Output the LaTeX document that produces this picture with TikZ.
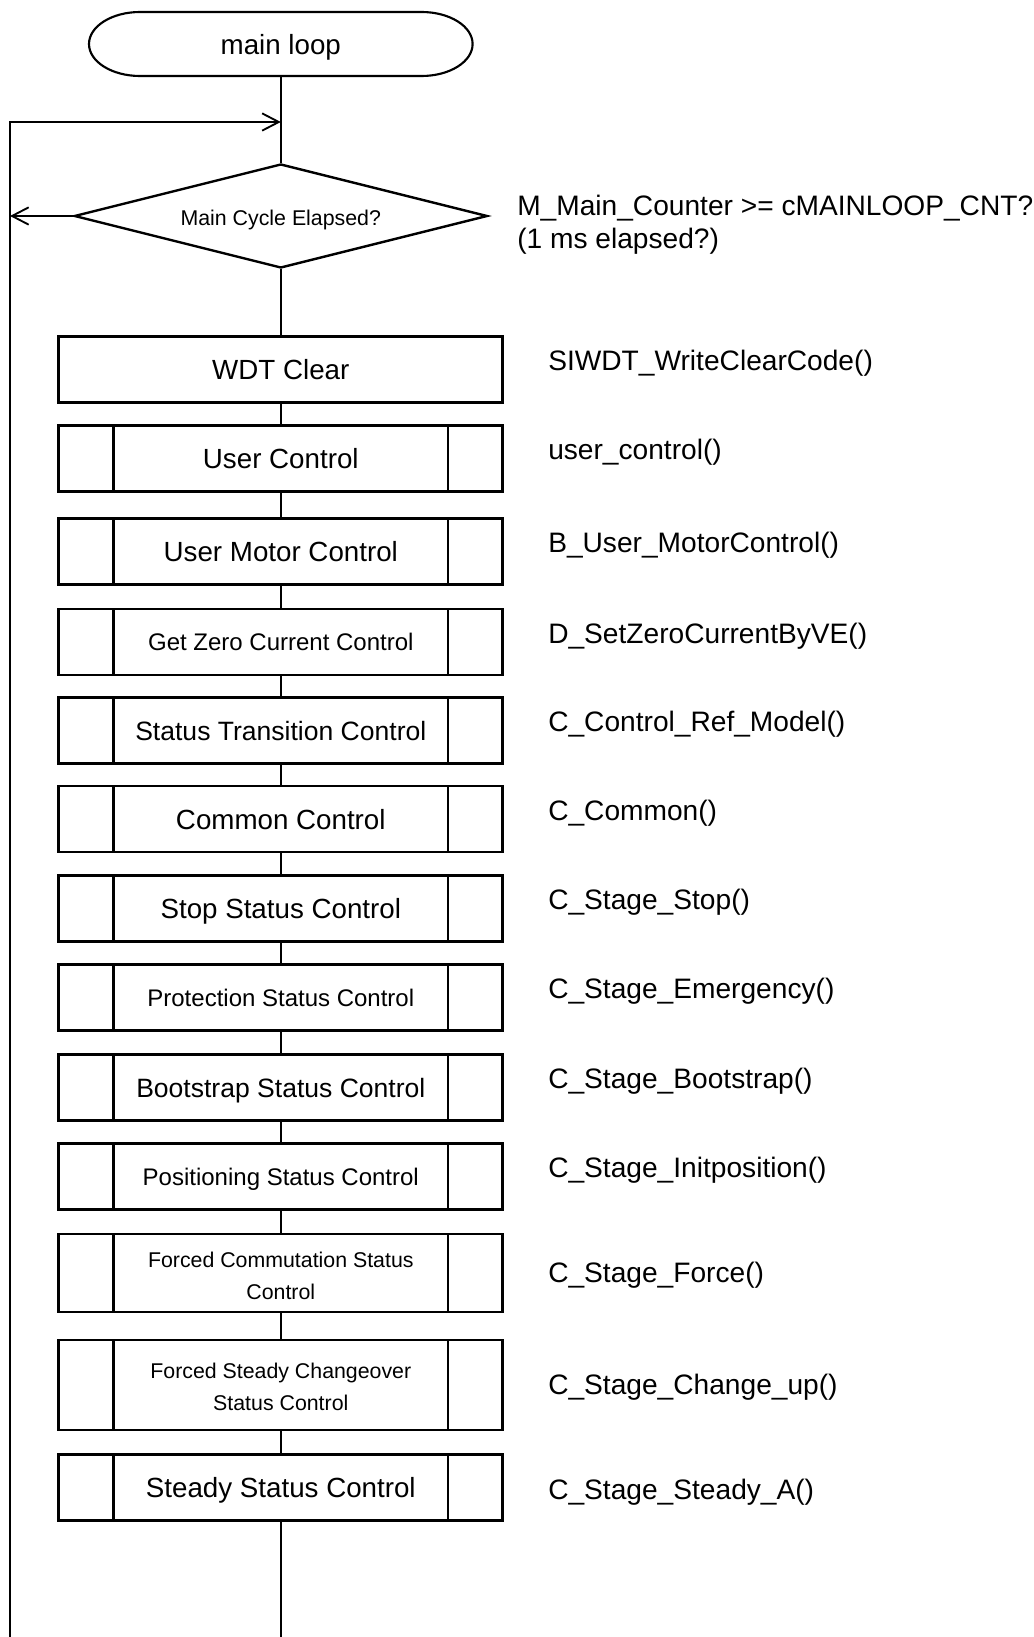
\documentclass[tikz,border=0pt]{standalone}
\usepackage{fontspec}
\setmainfont{Liberation Sans}
\usetikzlibrary{arrows.meta,shapes.geometric}
\newcommand{\lowtxt}[2]{\raisebox{-#1}[\height][\depth]{#2}}
\begin{document}
\begin{tikzpicture}[x=0.75pt,y=-0.75pt,
  conn/.style={line width=1.4pt},
  arr/.style={conn,-{Straight Barb[length=12.5pt,width=13pt,line width=1.4pt]}},
  boxst/.style={draw,line width=2pt,minimum width=333pt,minimum height=49.5pt,inner sep=0pt,align=center,text depth=0pt,font=\fontsize{20.8}{24}\selectfont},
  small/.style={font=\fontsize{16}{23.5}\selectfont},
  medium/.style={font=\fontsize{18}{22}\selectfont},
  narrow/.style={font=\fontsize{19.9}{24}\selectfont},
  subr/.style={boxst,path picture={
      \draw[line width=1.8pt] ([xshift=41pt]path picture bounding box.north west) -- ([xshift=41pt]path picture bounding box.south west);
      \draw[line width=1.8pt] ([xshift=-41pt]path picture bounding box.north east) -- ([xshift=-41pt]path picture bounding box.south east);}},
  lab/.style={anchor=west,inner sep=0pt,align=left,font=\fontsize{21.1}{24.5}\selectfont}
]
\useasboundingbox (0,0) rectangle (1034,1637);

% terminal
\node[minimum width=286.5pt,minimum height=48pt,inner sep=0pt,font=\fontsize{20.8}{24}\selectfont] (start) at (280.8,44) {\lowtxt{2.25pt}{main loop}};
\draw[line width=1.6pt] (140,12) -- (421.6,12) arc[start angle=90,end angle=-90,x radius=38.25pt,y radius=24pt]
   -- (140,76) arc[start angle=270,end angle=90,x radius=38.25pt,y radius=24pt] -- cycle;

% decision
\node[diamond,draw,line width=1.8pt,minimum width=309.75pt,minimum height=78pt,aspect=3.97,inner sep=0pt,small] (dec) at (280.8,216) {\lowtxt{3pt}{Main Cycle Elapsed?}};
\node[lab] (declab) at (517,225) {M\_Main\_Counter >= cMAINLOOP\_CNT?\\(1 ms elapsed?)};

% boxes
\node[boxst] (b1) at (280.8,369.5) {WDT Clear};
\node[subr] (b2) at (280.8,458.5) {User Control};
\node[subr] (b3) at (280.8,551.5) {User Motor Control};
\node[subr,medium] (b4) at (280.8,642) {Get Zero Current Control};
\node[subr,narrow] (b5) at (280.8,730.5) {Status Transition Control};
\node[subr] (b6) at (280.8,819) {Common Control};
\node[subr] (b7) at (280.8,908.5) {Stop Status Control};
\node[subr,medium] (b8) at (280.8,997.5) {Protection Status Control};
\node[subr,narrow] (b9) at (280.8,1087.5) {Bootstrap Status Control};
\node[subr,medium] (b10) at (280.8,1176.5) {Positioning Status Control};
\node[subr,small,text depth=,minimum height=58.5pt] (b11) at (280.8,1273) {\lowtxt{2.25pt}{Forced Commutation Status}\\\lowtxt{2.25pt}{Control}};
\node[subr,small,text depth=,minimum height=67.5pt] (b12) at (280.8,1385) {\lowtxt{1.5pt}{Forced Steady Changeover}\\\lowtxt{1.5pt}{Status Control}};
\node[subr] (b13) at (280.8,1487.5) {Steady Status Control};

% labels
\node[lab] (l1) at (548,363.5) {SIWDT\_WriteClearCode()};
\node[lab] (l2) at (548,452.5) {user\_control()};
\node[lab] (l3) at (548,545.5) {B\_User\_MotorControl()};
\node[lab] (l4) at (548,636) {D\_SetZeroCurrentByVE()};
\node[lab] (l5) at (548,724.5) {C\_Control\_Ref\_Model()};
\node[lab] (l6) at (548,813) {C\_Common()};
\node[lab] (l7) at (548,902.5) {C\_Stage\_Stop()};
\node[lab] (l8) at (548,991.5) {C\_Stage\_Emergency()};
\node[lab] (l9) at (548,1081.5) {C\_Stage\_Bootstrap()};
\node[lab] (l10) at (548,1170.5) {C\_Stage\_Initposition()};
\node[lab] (l11) at (548,1275) {C\_Stage\_Force()};
\node[lab] (l12) at (548,1387) {C\_Stage\_Change\_up()};
\node[lab] (l13) at (548,1492) {C\_Stage\_Steady\_A()};

% coordinates
\coordinate (join) at (280.8,122);
\coordinate (lt) at (10,122);
\coordinate (lb) at (10,1637);
\coordinate (lx) at (10,216);
\coordinate (bot) at (280.8,1637);

% connectors
\draw[conn] (start.south) -- (dec.north);
\draw[arr] (lb) -- (lt) -- (join);
\draw[arr] (dec.west) -- (lx);
\draw[conn] (dec.south) -- (b1.north);
\foreach \a/\b in {b1/b2,b2/b3,b3/b4,b4/b5,b5/b6,b6/b7,b7/b8,b8/b9,b9/b10,b10/b11,b11/b12,b12/b13}
  \draw[conn] (\a.south) -- (\b.north);
\draw[conn] (b13.south) -- (bot);
\end{tikzpicture}
\end{document}
